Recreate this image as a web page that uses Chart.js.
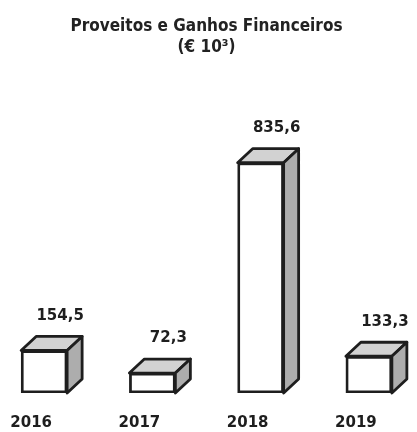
<!DOCTYPE html>
<html lang="pt">
<head>
<meta charset="utf-8">
<title>Proveitos e Ganhos Financeiros</title>
<script src="https://cdn.jsdelivr.net/npm/chart.js@4/dist/chart.umd.min.js"></script>
<style>
  html, body { margin: 0; padding: 0; background: #fff; overflow: hidden; }
  #wrap { position: relative; width: 433px; height: 432px; margin-left: -10px; }
</style>
</head>
<body>
<div id="wrap"><canvas id="financeChart"></canvas></div>
<script>
/* global document, Chart */
const years = ['2016', '2017', '2018', '2019'];
const values = [154.5, 72.3, 835.6, 133.3];
const valueLabels = ['154,5', '72,3', '835,6', '133,3'];
const titleLines = ['Proveitos e Ganhos Financeiros', '(€ 10³)'];

// depth of the fake 3D boxes
const DEPTH_X = 15;
const DEPTH_Y = -14;

/**
 * draws the top and side faces of every bar plus the value above it
 */
const boxPlugin = {
  id: 'box3d',
  afterDatasetsDraw(chart) {
    const ctx = chart.ctx;
    const meta = chart.getDatasetMeta(0);
    meta.data.forEach(function (bar, i) {
      const half = bar.width / 2;
      const l = bar.x - half;
      const r = bar.x + half;
      const t = bar.y;
      const b = bar.base;

      ctx.save();
      ctx.lineJoin = 'round';
      ctx.lineWidth = 2.8;
      ctx.strokeStyle = '#1e1e1e';

      // top face
      ctx.beginPath();
      ctx.moveTo(l, t);
      ctx.lineTo(l + DEPTH_X, t + DEPTH_Y);
      ctx.lineTo(r + DEPTH_X, t + DEPTH_Y);
      ctx.lineTo(r, t);
      ctx.closePath();
      ctx.fillStyle = '#d2d2d2';
      ctx.fill();
      ctx.stroke();

      // side face
      ctx.beginPath();
      ctx.moveTo(r, t);
      ctx.lineTo(r + DEPTH_X, t + DEPTH_Y);
      ctx.lineTo(r + DEPTH_X, b + DEPTH_Y);
      ctx.lineTo(r, b);
      ctx.closePath();
      ctx.fillStyle = '#adadad';
      ctx.fill();
      ctx.stroke();

      // value label
      ctx.fillStyle = '#1e1e1e';
      ctx.font = 'bold 15px "DejaVu Sans"';
      ctx.textAlign = 'center';
      ctx.textBaseline = 'bottom';
      ctx.fillText(valueLabels[i], bar.x + 16, t + DEPTH_Y - 13);
      ctx.restore();
    });
  },
};

document.addEventListener('DOMContentLoaded', function () {
  const ctx = document.getElementById('financeChart').getContext('2d');

  new Chart(ctx, {
    type: 'bar',
    data: {
      labels: years,
      datasets: [
        {
          data: values,
          backgroundColor: '#ffffff',
          borderColor: '#1e1e1e',
          borderWidth: 2.8,
          borderSkipped: false,
          barThickness: 46,
        },
      ],
    },
    options: {
      responsive: true,
      maintainAspectRatio: false,
      animation: false,
      layout: { padding: 0 },
      plugins: {
        legend: { display: false },
        tooltip: { enabled: false },
        title: {
          display: true,
          text: titleLines,
          color: '#222',
          font: { family: '"DejaVu Sans Condensed", "DejaVu Sans"', size: 17, weight: 'bold', lineHeight: '21px' },
          padding: { top: 16, bottom: 18 },
        },
      },
      scales: {
        x: {
          grid: { display: false },
          border: { display: false },
          ticks: {
            color: '#1e1e1e',
            font: { family: '"DejaVu Sans"', size: 15, weight: 'bold' },
            padding: 13,
            labelOffset: -13,
          },
          afterFit(scale) {
            // keep the baseline of the boxes near the bottom like the scan
            scale.height = 39;
          },
        },
        y: {
          display: false,
          min: 0,
          max: 1150,
        },
      },
    },
    plugins: [boxPlugin],
  });
});
</script>
</body>
</html>
